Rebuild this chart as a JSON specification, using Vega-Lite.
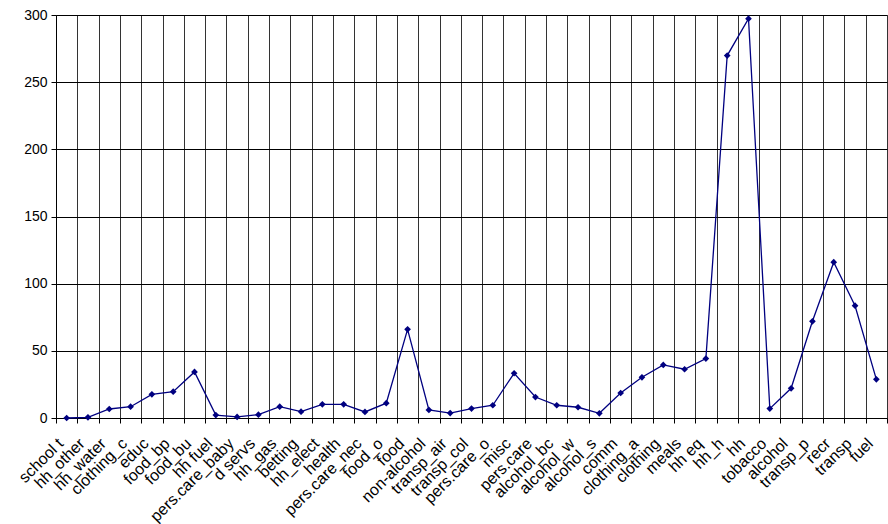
{
  "$schema": "https://vega.github.io/schema/vega-lite/v6.json",
  "autosize": "none",
  "padding": {"left": 56, "top": 15, "right": 1, "bottom": 106},
  "width": 831,
  "height": 403,
  "background": "white",
  "config": {
    "font": "Liberation Sans",
    "view": {"stroke": "#808080", "strokeWidth": 1}
  },
  "data": {
    "values": [
      {"cat": "school t", "v": 0},
      {"cat": "hh_other", "v": 0.5},
      {"cat": "hh_water", "v": 6.7},
      {"cat": "clothing_c", "v": 8.4},
      {"cat": "educ", "v": 17.6},
      {"cat": "food_bp", "v": 19.6},
      {"cat": "food_bu", "v": 34.3},
      {"cat": "hh fuel", "v": 2.2},
      {"cat": "pers.care_baby", "v": 0.8},
      {"cat": "d servs", "v": 2.5},
      {"cat": "hh_gas", "v": 8.4},
      {"cat": "betting", "v": 4.7},
      {"cat": "hh_elect", "v": 10.2},
      {"cat": "health", "v": 10.2},
      {"cat": "pers.care_nec", "v": 4.5},
      {"cat": "food_o", "v": 11},
      {"cat": "food", "v": 66},
      {"cat": "non-alcohol", "v": 6},
      {"cat": "transp_air", "v": 3.7},
      {"cat": "transp_col", "v": 7},
      {"cat": "pers.care_o", "v": 9.5},
      {"cat": "misc", "v": 33.3},
      {"cat": "pers.care", "v": 15.6},
      {"cat": "alcohol_bc", "v": 9.5},
      {"cat": "alcohol_w", "v": 8},
      {"cat": "alcohol_s", "v": 3.5},
      {"cat": "comm", "v": 18.6},
      {"cat": "clothing_a", "v": 30.3},
      {"cat": "clothing", "v": 39.5},
      {"cat": "meals", "v": 36.3},
      {"cat": "hh eq", "v": 44.2},
      {"cat": "hh_h", "v": 269.8},
      {"cat": "hh", "v": 297.3},
      {"cat": "tobacco", "v": 7},
      {"cat": "alcohol", "v": 22.1},
      {"cat": "transp_p", "v": 72},
      {"cat": "recr", "v": 116},
      {"cat": "transp", "v": 83.6},
      {"cat": "fuel", "v": 28.8}
    ]
  },
  "encoding": {
    "x": {
      "field": "cat",
      "type": "nominal",
      "sort": null,
      "scale": {"type": "band", "paddingInner": 0, "paddingOuter": 0},
      "axis": {
        "title": null,
        "tickBand": "extent",
        "grid": true,
        "gridColor": "#333333",
        "gridWidth": 1,
        "gridOpacity": 1,
        "domainColor": "black",
        "tickColor": "black",
        "tickSize": 5,
        "labelAngle": -45,
        "labelAlign": "right",
        "labelBaseline": "top",
        "labelFontSize": 16,
        "labelColor": "black",
        "labelPadding": 12,
        "labelOffset": -12,
        "labelOverlap": false,
        "labelBound": false
      }
    },
    "y": {
      "field": "v",
      "type": "quantitative",
      "scale": {"domain": [0, 300], "nice": false},
      "axis": {
        "title": null,
        "values": [0, 50, 100, 150, 200, 250, 300],
        "grid": true,
        "gridColor": "black",
        "gridOpacity": 1,
        "domainColor": "black",
        "tickColor": "black",
        "tickSize": 5,
        "labelFontSize": 14,
        "labelColor": "black",
        "labelPadding": 4
      }
    }
  },
  "layer": [
    {"mark": {"type": "line", "color": "#000080", "strokeWidth": 1.3}},
    {"mark": {"type": "point", "shape": "diamond", "filled": true, "color": "#000080", "size": 45, "opacity": 1}}
  ]
}
